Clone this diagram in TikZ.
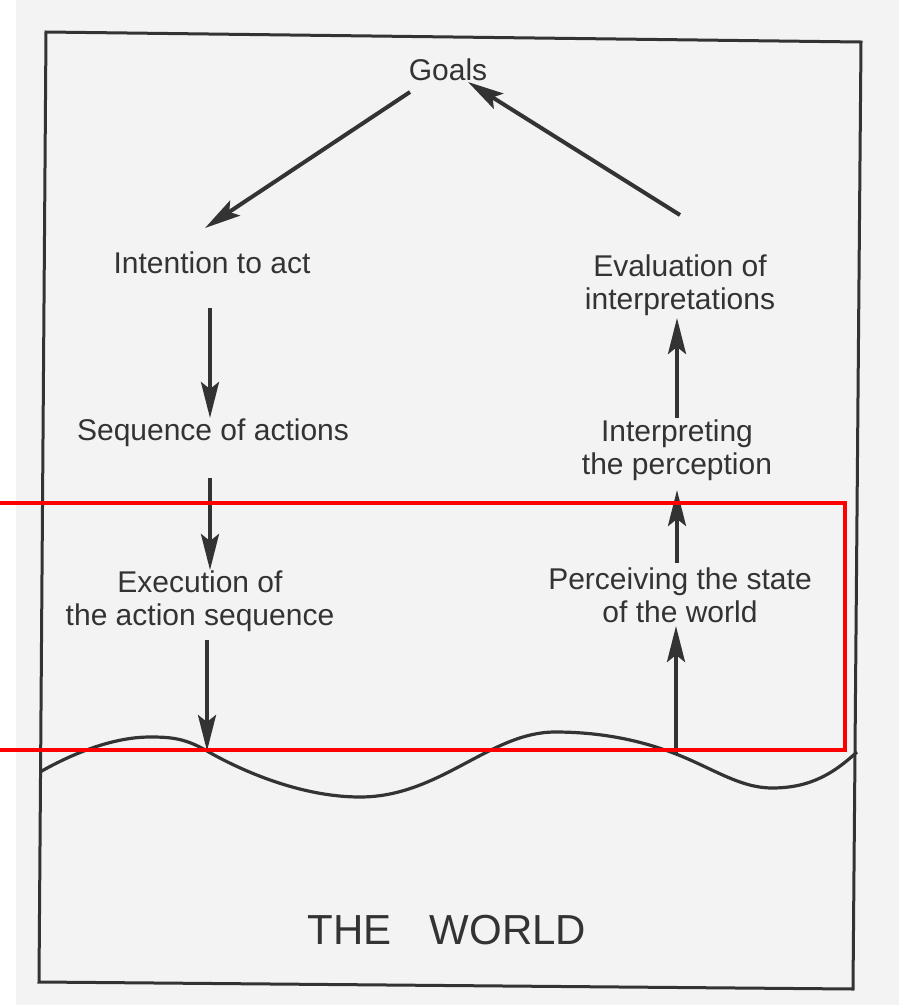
\documentclass[tikz,border=0pt]{standalone}
\usepackage{fontspec}
\setmainfont{Liberation Sans}
\usetikzlibrary{arrows.meta}
\definecolor{ink}{HTML}{333333}
\definecolor{paper}{HTML}{F3F3F3}
\begin{document}
\begin{tikzpicture}[x=1pt,y=-1pt,
  lbl/.style={text=ink,inner sep=0pt,align=center,font=\fontsize{30}{33}\selectfont},
  arr/.style={draw=ink,line width=4pt,-{Stealth[length=36pt,width=18pt,inset=7pt]}},
  frame/.style={draw=ink,line width=3pt,line join=miter},
  wave/.style={draw=ink,line width=3.2pt},
  redbox/.style={draw=red,line width=4.5pt}]
\useasboundingbox (0,0) rectangle (899,1005);
\fill[paper] (16,0) rectangle (899,1005);
% frame
\draw[frame] (46,32) -- (861,42) -- (853,989) -- (39,982) -- cycle;
% nodes
\node[lbl] (goals) at (448,70) {Goals};
\node[lbl] (intent) at (212,263) {Intention to act};
\node[lbl] (seq) at (213,433) {Sequence of actions};
\node[lbl] (exec) at (200,601) {Execution of\\the action sequence};
\node[lbl] (perc) at (680,595) {Perceiving the state\\of the world};
\node[lbl] (interp) at (677,450) {Interpreting\\the perception};
\node[lbl] (eval) at (680,285) {Evaluation of\\interpretations};
\node[text=ink,inner sep=0pt,font=\fontsize{42}{46}\selectfont] (world) at (447,930) {THE\hspace{0.9em}WORLD};
% wave
\coordinate (w1) at (207,751);
\coordinate (w2) at (676,754);
\draw[wave] (40,772) .. controls (75,752) and (115,737) .. (150,737)
  .. controls (170,737) and (185,738) .. (w1)
  .. controls (240,770) and (300,797) .. (360,797)
  .. controls (440,797) and (490,732) .. (555,732)
  .. controls (600,732) and (640,740) .. (w2)
  .. controls (712,768) and (740,788) .. (772,788)
  .. controls (812,788) and (835,772) .. (857,752);
% connectors
\draw[arr] ([shift={(-38,22)}]goals.center) -- ([shift={(-7,-35)}]intent.center);
\draw[arr] ([shift={(0,-70)}]eval.center) -- ([shift={(20,12)}]goals.center);
\draw[arr] ([shift={(-2,45)}]intent.center) -- ([shift={(-3,-15)}]seq.center);
\draw[arr] ([shift={(-3,45)}]seq.center) -- ([shift={(10,-31)}]exec.center);
\draw[arr] ([shift={(7,39)}]exec.center) -- (w1);
\draw[arr] (w2) -- ([shift={(-4,31)}]perc.center);
\draw[arr] ([shift={(-3,-32)}]perc.center) -- ([shift={(0,40)}]interp.center);
\draw[arr] ([shift={(0,-32)}]interp.center) -- ([shift={(-3,33)}]eval.center);
% highlight
\draw[redbox] (-5,503) -- (845,503) -- (845,750) -- (-5,750);
\end{tikzpicture}
\end{document}
